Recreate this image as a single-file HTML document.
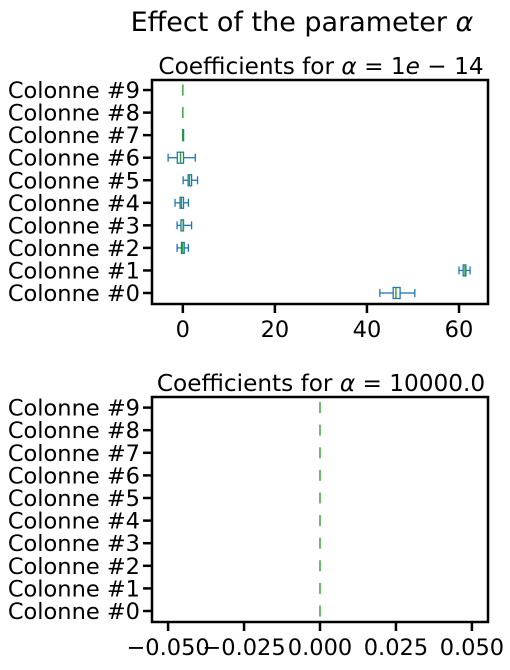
<!DOCTYPE html>
<html><head><meta charset="utf-8"><style>
body{margin:0;background:#fff;}
svg text{font-family:"DejaVu Sans","Liberation Sans",sans-serif;fill:#000;}
</style></head><body>
<svg id="c" width="510" height="665" xmlns="http://www.w3.org/2000/svg">
<text x="302" y="31" font-size="27" text-anchor="middle">Effect of the parameter <tspan font-style="italic">α</tspan></text>
</svg>
<script>
const categories=["Colonne #0","Colonne #1","Colonne #2","Colonne #3","Colonne #4","Colonne #5","Colonne #6","Colonne #7","Colonne #8","Colonne #9"];
const topWhiskLow=[42.8,60.0,-1.25,-1.25,-1.7,0.07,-3.2,-0.1,0,0];
const topQ1=[45.7,60.9,-0.3,-0.4,-0.6,1.15,-1.2,-0.05,0,0];
const topMedian=[46.3,61.3,-0.07,0.07,-0.3,1.45,-0.5,0,0,0];
const topQ3=[47.2,61.5,0.3,0.15,0.15,1.9,0.15,0.05,0,0];
const topWhiskHigh=[50.4,62.4,1.2,1.9,1.2,3.2,2.7,0.05,0,0];
const topTicks=[0,20,40,60];
const bottomValues=[0,0,0,0,0,0,0,0,0,0];
const bottomTicks=[-0.05,-0.025,0,0.025,0.05];
const bottomTickLabels=["−0.050","−0.025","0.000","0.025","0.050"];
const NS="http://www.w3.org/2000/svg";
const svg=document.getElementById('c');
function mk(tag,attrs,parent){const e=document.createElementNS(NS,tag);for(const k in attrs)e.setAttribute(k,attrs[k]);(parent||svg).appendChild(e);return e;}
function panel(cfg){
  const g=mk('g',{});
  
  
  const L=152,R=488,T=cfg.top,B=cfg.bottom;
  const x=v=>L+(v-cfg.xmin)/(cfg.xmax-cfg.xmin)*(R-L);
  const y=i=>cfg.y0-i*cfg.dy;
  mk('rect',{x:L,y:T,width:R-L,height:B-T,fill:'#fff'},g);
  const t=mk('text',{x:(L+R)/2+1,y:T-6,'font-size':23.2,'text-anchor':'middle'},g);
  t.innerHTML=cfg.title;
  
  
  categories.forEach((c,i)=>{
    mk('line',{x1:L-9,x2:L,y1:y(i),y2:y(i),stroke:'#000','stroke-width':2.5},g);
    const tx=mk('text',{x:L-12,y:y(i)+8,'font-size':22.5,'text-anchor':'end'},g);
    tx.textContent=c;
    
    
  });
  cfg.ticks.forEach((v,k)=>{
    mk('line',{x1:x(v),x2:x(v),y1:B,y2:B+9,stroke:'#000','stroke-width':2.5},g);
    const tx=mk('text',{x:x(v),y:B+33,'font-size':22.5,'text-anchor':'middle'},g);
    tx.textContent=cfg.labels[k];
    
    
  });
  cfg.draw(g,x,y);
  const f=mk('rect',{x:L,y:T,width:R-L,height:B-T,fill:'none',stroke:'#000','stroke-width':2.5},g);
  
  
}
panel({name:'top-panel',top:80,bottom:304,y0:293,dy:22.55,xmin:-6.7,xmax:66.3,ticks:topTicks,labels:topTicks.map(String),
 title:'Coefficients for <tspan font-style="italic">α</tspan> = 1<tspan font-style="italic">e</tspan> − 14',
 draw:(g,x,y)=>{
  categories.forEach((c,i)=>{
    const bg=mk('g',{},g);
    
    
    const yc=y(i),h=5.5,cap=4;
    const blue='#1f77b4';
    if(topWhiskHigh[i]-topWhiskLow[i]>0.3){
      mk('line',{x1:x(topWhiskLow[i]),x2:x(topQ1[i]),y1:yc,y2:yc,stroke:blue,'stroke-width':1.3},bg);
      mk('line',{x1:x(topQ3[i]),x2:x(topWhiskHigh[i]),y1:yc,y2:yc,stroke:blue,'stroke-width':1.3},bg);
      mk('line',{x1:x(topWhiskLow[i]),x2:x(topWhiskLow[i]),y1:yc-cap,y2:yc+cap,stroke:blue,'stroke-width':1.3},bg);
      mk('line',{x1:x(topWhiskHigh[i]),x2:x(topWhiskHigh[i]),y1:yc-cap,y2:yc+cap,stroke:blue,'stroke-width':1.3},bg);
    }
    if(topQ3[i]-topQ1[i]>0)
      mk('rect',{x:x(topQ1[i]),y:yc-h,width:Math.max(1,x(topQ3[i])-x(topQ1[i])),height:2*h,fill:'none',stroke:blue,'stroke-width':1.3},bg);
    mk('line',{x1:x(topMedian[i]),x2:x(topMedian[i]),y1:yc-h,y2:yc+h,stroke:'#2ca02c','stroke-width':1.4},bg);
  });
 }});
panel({name:'bottom-panel',top:397,bottom:622,y0:611,dy:22.6,xmin:-0.0553,xmax:0.0553,ticks:bottomTicks,labels:bottomTickLabels,
 title:'Coefficients for <tspan font-style="italic">α</tspan> = 10000.0',
 draw:(g,x,y)=>{
  categories.forEach((c,i)=>{
    const m=mk('line',{x1:x(bottomValues[i]),x2:x(bottomValues[i]),y1:y(i)-5.5,y2:y(i)+5.5,stroke:'#2ca02c','stroke-width':1.4},g);
    
    
  });
 }});
</script>
</body></html>
